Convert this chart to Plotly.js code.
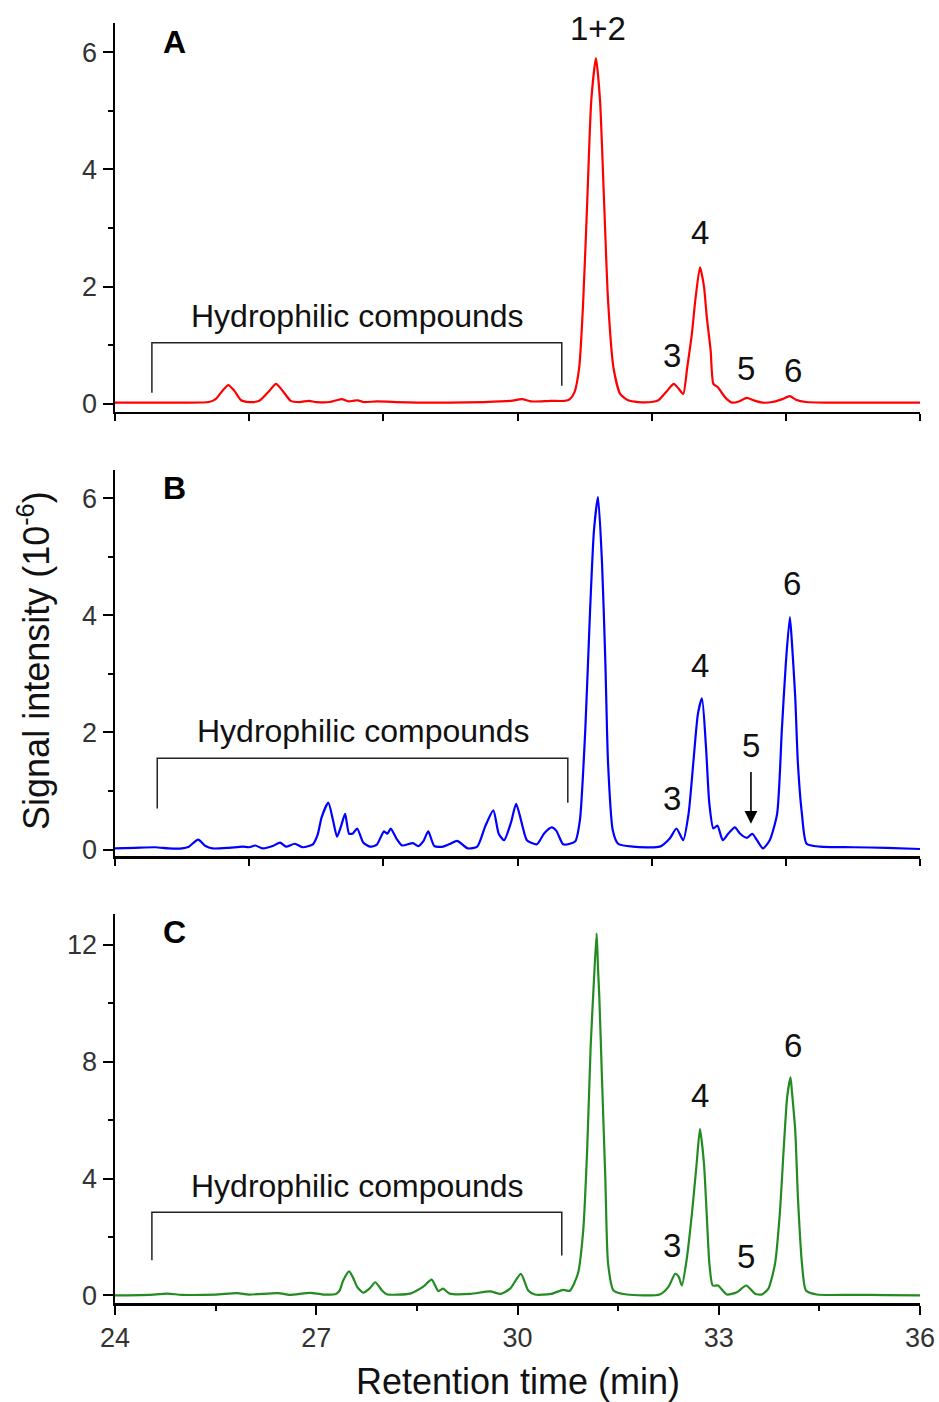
<!DOCTYPE html>
<html>
<head>
<meta charset="utf-8">
<script src="https://cdn.plot.ly/plotly-3.0.1.min.js"></script>
<style>html,body{margin:0;padding:0;background:#fff;}</style>
</head>
<body>
<div id="chart" style="width:939px;height:1402px;"></div>
<script>
// ---- Data (retention time in min, signal intensity x10^6) ----
const timeA = [24.0, 24.5, 25.0, 25.4, 25.5, 25.6, 25.69, 25.78, 25.88, 26.0,
               26.15, 26.3, 26.4, 26.5, 26.62, 26.75, 26.89, 27.0, 27.2, 27.3,
               27.38, 27.48, 27.55, 27.62, 27.7, 27.9, 28.2, 28.5, 29.0, 29.5,
               29.9, 30.07, 30.2, 30.5, 30.7, 30.78, 30.85, 30.92, 30.98, 31.04,
               31.10, 31.17, 31.23, 31.29, 31.35, 31.43, 31.53, 31.65, 31.8, 32.0,
               32.1, 32.23, 32.33, 32.40, 32.47, 32.53, 32.6, 32.65, 32.72, 32.78,
               32.82, 32.88, 32.92, 32.99, 33.05, 33.12, 33.2, 33.3, 33.42, 33.52,
               33.65, 33.8, 33.95, 34.06, 34.15, 34.3, 34.6, 35.0, 35.5, 36.0];
const signalA = [0.02, 0.02, 0.02, 0.03, 0.08, 0.22, 0.32, 0.22, 0.06, 0.03,
                 0.05, 0.22, 0.34, 0.22, 0.05, 0.03, 0.05, 0.03, 0.03, 0.06,
                 0.08, 0.04, 0.05, 0.06, 0.03, 0.04, 0.03, 0.02, 0.02, 0.03,
                 0.05, 0.08, 0.04, 0.05, 0.05, 0.08, 0.20, 0.62, 1.76, 3.47,
                 5.18, 5.90, 5.18, 3.47, 1.76, 0.62, 0.17, 0.06, 0.03, 0.03,
                 0.06, 0.22, 0.34, 0.26, 0.17, 0.62, 1.20, 1.76, 2.33, 2.00,
                 1.50, 0.90, 0.34, 0.28, 0.18, 0.08, 0.02, 0.04, 0.10, 0.06,
                 0.02, 0.03, 0.08, 0.13, 0.07, 0.03, 0.02, 0.02, 0.02, 0.02];

const timeB = [24.0, 24.3, 24.6, 24.8, 25.0, 25.1, 25.24, 25.35, 25.45, 25.7,
               25.9, 26.0, 26.09, 26.2, 26.35, 26.46, 26.55, 26.68, 26.8, 26.95,
               27.02, 27.08, 27.18, 27.25, 27.31, 27.37, 27.43, 27.49, 27.55, 27.61,
               27.70, 27.80, 27.9, 28.01, 28.06, 28.11, 28.2, 28.28, 28.44, 28.52,
               28.6, 28.67, 28.76, 28.89, 29.0, 29.10, 29.26, 29.40, 29.52, 29.64,
               29.72, 29.80, 29.9, 29.98, 30.07, 30.14, 30.29, 30.4, 30.51, 30.58,
               30.68, 30.78, 30.86, 30.93, 31.01, 31.08, 31.14, 31.20, 31.26, 31.31,
               31.35, 31.42, 31.50, 31.72, 32.12, 32.27, 32.37, 32.47, 32.55, 32.62,
               32.69, 32.75, 32.81, 32.86, 32.92, 32.98, 33.06, 33.14, 33.24, 33.32,
               33.42, 33.50, 33.57, 33.66, 33.76, 33.87, 33.94, 34.00, 34.06, 34.09,
               34.14, 34.18, 34.24, 34.31, 34.51, 35.0, 35.5, 36.0];
const signalB = [0.02, 0.03, 0.04, 0.02, 0.02, 0.05, 0.17, 0.06, 0.02, 0.03,
                 0.05, 0.04, 0.07, 0.02, 0.06, 0.12, 0.05, 0.10, 0.04, 0.09,
                 0.25, 0.55, 0.80, 0.50, 0.22, 0.40, 0.61, 0.27, 0.28, 0.36,
                 0.12, 0.05, 0.08, 0.31, 0.27, 0.36, 0.18, 0.07, 0.11, 0.06,
                 0.15, 0.31, 0.06, 0.05, 0.10, 0.15, 0.02, 0.05, 0.40, 0.67,
                 0.27, 0.16, 0.45, 0.78, 0.42, 0.16, 0.09, 0.28, 0.38, 0.32,
                 0.09, 0.10, 0.14, 0.50, 2.03, 4.03, 5.45, 6.02, 4.89, 3.18,
                 1.47, 0.33, 0.10, 0.05, 0.05, 0.19, 0.36, 0.16, 0.61, 1.47,
                 2.32, 2.58, 1.75, 0.78, 0.36, 0.41, 0.16, 0.27, 0.38, 0.27,
                 0.20, 0.27, 0.16, 0.02, 0.16, 0.61, 2.03, 3.18, 3.97, 3.55,
                 2.60, 1.47, 0.61, 0.10, 0.05, 0.04, 0.03, 0.01];

const timeC = [24.0, 24.5, 24.78, 25.0, 25.5, 25.82, 26.0, 26.43, 26.6, 26.91,
               27.1, 27.3, 27.35, 27.40, 27.49, 27.55, 27.61, 27.70, 27.8, 27.88,
               27.98, 28.05, 28.40, 28.59, 28.72, 28.82, 28.89, 28.99, 29.3, 29.59,
               29.75, 29.89, 30.05, 30.16, 30.26, 30.5, 30.68, 30.78, 30.90, 30.98,
               31.04, 31.09, 31.14, 31.18, 31.20, 31.22, 31.26, 31.31, 31.35, 31.43,
               31.63, 32.12, 32.25, 32.35, 32.40, 32.45, 32.52, 32.60, 32.67, 32.72,
               32.78, 32.82, 32.86, 32.91, 32.99, 33.12, 33.27, 33.41, 33.54, 33.64,
               33.74, 33.84, 33.91, 33.97, 34.02, 34.07, 34.09, 34.14, 34.18, 34.24,
               34.30, 34.46, 35.0, 35.5, 36.0];
const signalC = [0.00, 0.02, 0.06, 0.02, 0.03, 0.08, 0.03, 0.08, 0.02, 0.09,
                 0.03, 0.06, 0.17, 0.50, 0.82, 0.60, 0.29, 0.09, 0.25, 0.45,
                 0.17, 0.04, 0.06, 0.29, 0.54, 0.15, 0.23, 0.06, 0.05, 0.14,
                 0.05, 0.23, 0.74, 0.17, 0.03, 0.05, 0.19, 0.16, 0.74, 2.23,
                 5.08, 8.50, 10.8, 12.4, 11.2, 10.2, 7.37, 3.94, 1.10, 0.17,
                 0.03, 0.03, 0.29, 0.74, 0.65, 0.34, 1.20, 2.80, 4.50, 5.70,
                 4.50, 2.80, 1.10, 0.34, 0.34, 0.03, 0.11, 0.34, 0.06, 0.03,
                 0.23, 1.10, 2.80, 5.08, 6.80, 7.47, 7.00, 5.66, 3.37, 1.10,
                 0.17, 0.03, 0.02, 0.01, 0.00];

// Peak labels: [text, time, signal]
const peakLabelsA = [["1+2", 31.2, 6.41], ["3", 32.3, 0.82], ["4", 32.72, 2.92], ["5", 33.41, 0.60], ["6", 34.1, 0.56]];
const peakLabelsB = [["1+2", 31.2, 6.56], ["3", 32.3, 0.87], ["4", 32.72, 3.15], ["5", 33.48, 1.78], ["6", 34.09, 4.55]];
const peakLabelsC = [["1+2", 31.2, 13.44], ["3", 32.3, 1.71], ["4", 32.72, 6.86], ["5", 33.41, 1.34], ["6", 34.1, 8.57]];
const panelLetters = ["A", "B", "C"];
const bracketLabel = "Hydrophilic compounds";
const xTickVals = [24, 27, 30, 33, 36];

// ---- Styling / layout ----
const FONT = 'Arial, "Liberation Sans", sans-serif';
const colors = ['#ff0000', '#0000ff', '#228b22'];

const traces = [
  {x: timeA, y: signalA, xaxis: 'x', yaxis: 'y'},
  {x: timeB, y: signalB, xaxis: 'x2', yaxis: 'y2'},
  {x: timeC, y: signalC, xaxis: 'x3', yaxis: 'y3'}
].map((t, i) => Object.assign(t, {
  type: 'scatter', mode: 'lines', hoverinfo: 'skip',
  line: {color: colors[i], width: 2.2, shape: 'spline', smoothing: 0.6}
}));

function xAxis(anchor, labelled) {
  const ax = {
    anchor: anchor, domain: [0, 1], range: [24, 36], showgrid: false, zeroline: false,
    showline: true, linecolor: 'black', linewidth: 2.5,
    ticks: 'outside', tickcolor: 'black', tickwidth: 2, ticklen: 7
  };
  if (labelled) {
    ax.tickmode = 'array'; ax.tickvals = xTickVals; ax.ticktext = xTickVals.map(String);
    ax.ticklen = 9;
    ax.tickfont = {family: FONT, size: 27, color: '#333'};
    ax.minor = {dtick: 1.5, tick0: 24, ticks: 'outside', ticklen: 5, tickwidth: 2, tickcolor: 'black', showgrid: false};
  } else {
    ax.dtick = 2; ax.tick0 = 24; ax.showticklabels = false;
  }
  return ax;
}
function yAxis(anchor, domain, range, dtick) {
  return {
    anchor: anchor, domain: domain, range: range, showgrid: false, zeroline: false,
    showline: true, linecolor: 'black', linewidth: 2.5,
    ticks: 'outside', tickcolor: 'black', tickwidth: 2, ticklen: 10,
    tick0: 0, dtick: dtick,
    tickfont: {family: FONT, size: 27, color: '#333'},
    minor: {dtick: dtick / 2, tick0: 0, ticks: 'outside', ticklen: 5, tickwidth: 2, tickcolor: 'black', showgrid: false}
  };
}

const annotations = [];
const shapes = [];
const panels = [
  {xa: 'x', ya: 'y', labels: peakLabelsA, br: [24.55, 30.66, 1.04, 0.19, 0.31], txt: [27.62, 1.5]},
  {xa: 'x2', ya: 'y2', labels: peakLabelsB, br: [24.63, 30.75, 1.56, 0.70, 0.80], txt: [27.70, 2.02]},
  {xa: 'x3', ya: 'y3', labels: peakLabelsC, br: [24.55, 30.66, 2.85, 1.20, 1.37], txt: [27.62, 3.74]}
];
panels.forEach((p, i) => {
  p.labels.forEach(l => annotations.push({
    xref: p.xa, yref: p.ya, x: l[1], y: l[2], text: l[0], showarrow: false,
    xanchor: 'center', yanchor: 'middle', font: {family: FONT, size: 33, color: '#111'}
  }));
  annotations.push({
    xref: p.xa + ' domain', yref: p.ya + ' domain', x: 0.0745, y: [0.951, 0.953, 0.954][i],
    text: '<b>' + panelLetters[i] + '</b>', showarrow: false, xanchor: 'center', yanchor: 'middle',
    font: {family: FONT, size: 32, color: '#000'}
  });
  annotations.push({
    xref: p.xa, yref: p.ya, x: p.txt[0], y: p.txt[1], text: bracketLabel, showarrow: false,
    xanchor: 'center', yanchor: 'middle', font: {family: FONT, size: 32, color: '#111'}
  });
  const b = p.br;
  shapes.push({
    type: 'path', xref: p.xa, yref: p.ya,
    path: `M ${b[0]},${b[3]} L ${b[0]},${b[2]} L ${b[1]},${b[2]} L ${b[1]},${b[4]}`,
    line: {color: '#222', width: 1.5}
  });
});
// arrow for peak 5 in panel B
annotations.push({
  xref: 'x2', yref: 'y2', x: 33.48, y: 0.44, ax: 33.48, ay: 1.35, axref: 'x2', ayref: 'y2',
  text: '', showarrow: true, arrowhead: 2, arrowsize: 1.6, arrowwidth: 1.6, arrowcolor: '#000'
});
// axis titles
annotations.push({
  xref: 'paper', yref: 'paper', x: -0.1, y: 0.502, textangle: -90,
  text: 'Signal intensity (10<sup>-6</sup>)', showarrow: false, xanchor: 'center', yanchor: 'middle',
  font: {family: FONT, size: 36, color: '#111'}
});
annotations.push({
  xref: 'x3', yref: 'paper', x: 30, y: -0.0617,
  text: 'Retention time (min)', showarrow: false, xanchor: 'center', yanchor: 'middle',
  font: {family: FONT, size: 36, color: '#111'}
});

const layout = {
  width: 939, height: 1402,
  margin: {l: 115, r: 19, t: 23, b: 99},
  paper_bgcolor: '#fff', plot_bgcolor: '#fff', showlegend: false,
  font: {family: FONT, color: '#111'},
  xaxis: xAxis('y', false),
  xaxis2: xAxis('y2', false),
  xaxis3: xAxis('y3', true),
  yaxis: yAxis('x', [0.6961, 1], [-0.14, 6.5], 2),
  yaxis2: yAxis('x2', [0.3492, 0.6508], [-0.11, 6.48], 2),
  yaxis3: yAxis('x3', [0, 0.3039], [-0.26, 13.06], 4),
  annotations: annotations,
  shapes: shapes
};

Plotly.newPlot('chart', traces, layout, {staticPlot: true, displayModeBar: false});
</script>
</body>
</html>
